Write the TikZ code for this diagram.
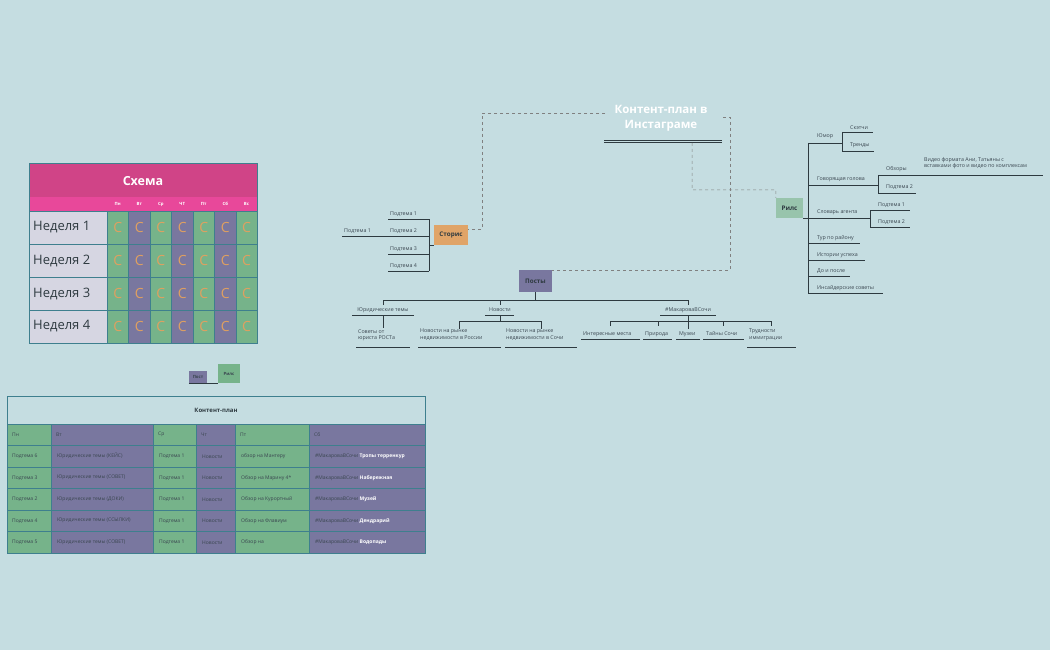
\documentclass[tikz,border=0pt]{standalone}
\usepackage{fontspec}
\setmainfont{Open Sans}
\begin{document}
\definecolor{bg}{HTML}{C5DDE1}
\definecolor{pinkA}{HTML}{D04487}
\definecolor{pinkB}{HTML}{E8489A}
\definecolor{grn}{HTML}{76B38A}
\definecolor{prp}{HTML}{79779F}
\definecolor{orng}{HTML}{E0A060}
\definecolor{wk}{HTML}{D6D6E2}
\definecolor{bord}{HTML}{3E7F8E}
\definecolor{ln}{HTML}{2E3A40}
\definecolor{txt}{HTML}{3A4650}
\definecolor{story}{HTML}{E0A468}
\definecolor{rils}{HTML}{98C4AC}
\begin{tikzpicture}[x=1pt,y=-1pt,
  lbl/.style={font=\fontsize{5.3}{6.5}\selectfont,text=txt,inner sep=0pt,anchor=base west},
  ml/.style={lbl,align=left,anchor=north west},
  br/.style={draw=ln,line width=0.8pt},
  dsh/.style={draw=gray,dashed,line width=0.5pt},
  cell/.style={draw=bord,line width=0.6pt},
  ttxt/.style={font=\fontsize{5}{6}\selectfont,text=txt,inner sep=0pt,anchor=west}]
\fill[bg] (0,0) rectangle (1050,650);
\useasboundingbox (0,0) rectangle (1050,650);
% ---------- Schema table
\fill[pinkA] (29,163) rectangle (257,197);
\node[font=\bfseries\fontsize{12.5}{14}\selectfont,text=white] (schema) at (143,181) {Схема};
\fill[pinkB] (29,197) rectangle (257,211);
\def\xs{{107,128.5,150,171.5,193,214.5,236,257}}
\foreach \d [count=\i from 0] in {Пн,Вт,Ср,ЧТ,Пт,Сб,Вс}{
  \pgfmathsetmacro\xa{\xs[\i]}\pgfmathsetmacro\xb{\xs[\i+1]}
  \node[font=\bfseries\fontsize{4.3}{5}\selectfont,text=white] (d\i) at ({(\xa+\xb)/2},204) {\d};
  \pgfmathsetmacro\odd{mod(\i,2)}
  \foreach \w in {0,1,2,3}{
    \pgfmathsetmacro\ya{211+33*\w}
    \ifdim\odd pt=1pt \fill[prp] (\xa,\ya) rectangle (\xb,\ya+33);
    \else \fill[grn] (\xa,\ya) rectangle (\xb,\ya+33); \fi
    \draw[cell] (\xa,\ya) rectangle (\xb,\ya+33);
    \node[font=\fontsize{14}{15}\selectfont,text=orng] (c\i\w) at ({(\xa+\xb)/2},\ya+16.5) {С};
  }
}
\foreach \w in {0,1,2,3}{
  \pgfmathsetmacro\ya{211+33*\w}
  \fill[wk] (29,\ya) rectangle (107,\ya+33);
  \draw[cell] (29,\ya) rectangle (107,\ya+33);
  \pgfmathtruncatemacro\n{\w+1}
  \node[font=\fontsize{13}{14}\selectfont,text=ln,anchor=west,inner sep=0pt] (wk\w) at (33,\ya+16.5) {Неделя \n};
}
\draw[cell] (29,163) rectangle (257,343);
% legend
\node[fill=prp,minimum width=18pt,minimum height=12pt,inner sep=0pt,font=\bfseries\fontsize{4.3}{5}\selectfont,text=txt] (lp) at (198,377) {Пост};
\node[fill=grn,minimum width=22pt,minimum height=19pt,inner sep=0pt,font=\bfseries\fontsize{4.3}{5}\selectfont,text=txt] (lr) at (229,373.5) {Рилс};
\draw[ln,line width=0.7pt] (lp.south west) -- (lr.south west);
% ---------- Content plan table
\fill[bg] (7,396) rectangle (425,424);
\draw[cell] (7,396) rectangle (425,424);
\node[font=\bfseries\fontsize{6}{7}\selectfont,text=ln] (cp) at (216,410) {Контент-план};
\def\cx{{7,51,153,196,235,309,425}}
\foreach \i in {0,...,5}{
  \pgfmathsetmacro\xa{\cx[\i]}\pgfmathsetmacro\xb{\cx[\i+1]}
  \pgfmathsetmacro\odd{mod(\i,2)}
  \ifdim\odd pt=1pt \fill[prp] (\xa,424) rectangle (\xb,553);
  \else \fill[grn] (\xa,424) rectangle (\xb,553); \fi
  \foreach \r in {0,...,5}{
    \pgfmathsetmacro\ya{424+21.5*\r}
    \draw[cell] (\xa,\ya) rectangle (\xb,\ya+21.5);
  }
}
\foreach \t [count=\i from 0] in {Пн,Вт,Ср,Чт,Пт,Сб}{
  \pgfmathsetmacro\xa{\cx[\i]}
  \node[ttxt] (h\i) at (\xa+5,434.75) {\t};
}
\foreach \a/\b/\c/\d/\e/\f [count=\r] in {
 Подтема 6/Юридические темы (КЕЙС)/Подтема 1/Новости/обзор на Мантеру/Тропы терренкур,
 Подтема 3/Юридические темы (СОВЕТ)/Подтема 1/Новости/Обзор на Марину 4*/Набережная,
 Подтема 2/Юридические темы (ДОКИ)/Подтема 1/Новости/Обзор на Курортный/Музей,
 Подтема 4/Юридические темы (ССЫЛКИ)/Подтема 1/Новости/Обзор на Флавиум/Дендрарий,
 Подтема 5/Юридические темы (СОВЕТ)/Подтема 1/Новости/Обзор на/Водопады}{
  \pgfmathsetmacro\yc{424+21.5*\r+10.75}
  \node[ttxt] (ra\r) at (12,\yc) {\a};
  \node[ttxt] (rb\r) at (57,\yc) {\b};
  \node[ttxt] (rc\r) at (159,\yc) {\c};
  \node[ttxt] (rd\r) at (202,\yc) {\d};
  \node[ttxt] (re\r) at (241,\yc) {\e};
  \node[ttxt] (rf\r) at (315,\yc) {\#МакароваВСочи \textcolor{white}{\bfseries\f}};
}
% ---------- Mind map
\node[font=\bfseries\fontsize{11.5}{15}\selectfont,text=white,align=center] (title) at (661,118) {Контент-план в\\Инстаграме};
\draw[ln,line width=0.6pt] (604,140) -- (722,140) (604,142.2) -- (722,142.2);
\node[fill=story,minimum width=34pt,minimum height=20pt,inner sep=0pt,font=\bfseries\fontsize{6.3}{7}\selectfont,text=ln] (stories) at (451,235) {Сторис};
\node[fill=prp,minimum width=33pt,minimum height=22pt,inner sep=0pt,font=\bfseries\fontsize{6.3}{7}\selectfont,text=ln] (posts) at (535.5,281) {Посты};
\node[fill=rils,minimum width=27pt,minimum height=20pt,inner sep=0pt,font=\bfseries\fontsize{6.3}{7}\selectfont,text=ln] (reels) at (789.5,208) {Рилс};
\draw[dsh] (605,113) -| (482,229) -- (stories.east |- 0,229);
\draw[dsh] (723,117) -- (730,117) |- (posts.north east);
\draw[dsh] (692,143) |- (776,190) -- (reels.north west);
% Stories branch
\draw[br] (stories.west |- 0,245) -- (429,245);
\draw[br] (429,219) -- (429,271);
\foreach \t/\y in {1/219,2/236,3/254,4/271}{
  \draw[br] (388,\y) -- (429,\y);
  \node[lbl] (s\t) at (390,\y-4) {Подтема \t};
}
\draw[br] (342,236) -- (388,236);
\node[lbl] (s0) at (344,232) {Подтема 1};
% Posts branch
\draw[br] (posts.south) -- (535.5,300);
\draw[br] (383,305) -- (383,300) -- (688,300) -- (688,305) (500,300) -- (500,305);
\node[lbl,anchor=base] (p1) at (383,311) {Юридические темы};
\draw[br] (352,315) -- (414,315);
\node[lbl,anchor=base] (p2) at (500,311) {Новости};
\draw[br] (485,315) -- (514,315);
\node[lbl,anchor=base] (p3) at (688,311) {\#МакароваВСочи};
\draw[br] (660,315) -- (716,315);
\draw[br] (383,315) -- (383,328);
\node[ml] (p11) at (358,329) {Советы от\\юриста РОСТа};
\draw[br] (356,347) -- (410,347);
\draw[br] (500,315) -- (500,321) (459,329) -- (459,321) -- (541,321) -- (541,329);
\node[ml] (p21) at (420,329) {Новости на рынке\\недвижимости в России};
\draw[br] (418,347) -- (501,347);
\node[ml] (p22) at (506,329) {Новости на рынке\\недвижимости в Сочи};
\draw[br] (505,347) -- (577,347);
\draw[br] (688,315) -- (688,329) (610,326) -- (610,321) -- (771,321) -- (771,326) (658,321) -- (658,326) (723,321) -- (723,326);
\node[lbl] (p31) at (583,335) {Интересные места};
\draw[br] (581,339) -- (640,339);
\node[lbl] (p32) at (645,335) {Природа};
\draw[br] (643,339) -- (672,339);
\node[lbl] (p33) at (679,335) {Музеи};
\draw[br] (676,339) -- (700,339);
\node[lbl] (p34) at (706,335) {Тайны Сочи};
\draw[br] (703,339) -- (744,339);
\node[ml] (p35) at (749,329) {Трудности\\иммиграции};
\draw[br] (747,347) -- (796,347);
% Reels branch
\draw[br] (reels.east |- 0,218) -- (808,218);
\draw[br] (808,143) -- (808,293);
\draw[br] (808,143) -- (842,143);
\node[lbl] (r1) at (817,138) {Юмор};
\draw[br] (842,132) -- (842,151);
\draw[br] (842,132) -- (873,132) (842,151) -- (874,151);
\node[lbl] (r11) at (850,130) {Скэтчи};
\node[lbl] (r12) at (850,147) {Тренды};
\draw[br] (808,185) -- (878,185);
\node[lbl] (r2) at (817,181) {Говорящая голова};
\draw[br] (878,175) -- (878,193);
\draw[br] (878,175) -- (1043,175) (878,193) -- (916,193);
\node[lbl] (r21) at (886,171) {Обзоры};
\node[ml] (r22) at (924,157) {Видео формата Ани, Татьяны с\\вставками фото и видео по комплексам};
\node[lbl] (r23) at (886,189) {Подтема 2};
\draw[br] (808,218) -- (870,218);
\node[lbl] (r3) at (817,214) {Словарь агента};
\draw[br] (870,210) -- (870,227);
\draw[br] (870,210) -- (910,210) (870,227) -- (910,227);
\node[lbl] (r31) at (878,206) {Подтема 1};
\node[lbl] (r32) at (878,223) {Подтема 2};
\foreach \t/\y/\e [count=\k from 4] in {Тур по району/243/860,Истории успеха/260/865,До и после/276/850,Инсайдерские советы/293/883}{
  \draw[br] (808,\y) -- (\e,\y);
  \node[lbl] (r\k) at (817,\y-4) {\t};
}
\end{tikzpicture}
\end{document}
